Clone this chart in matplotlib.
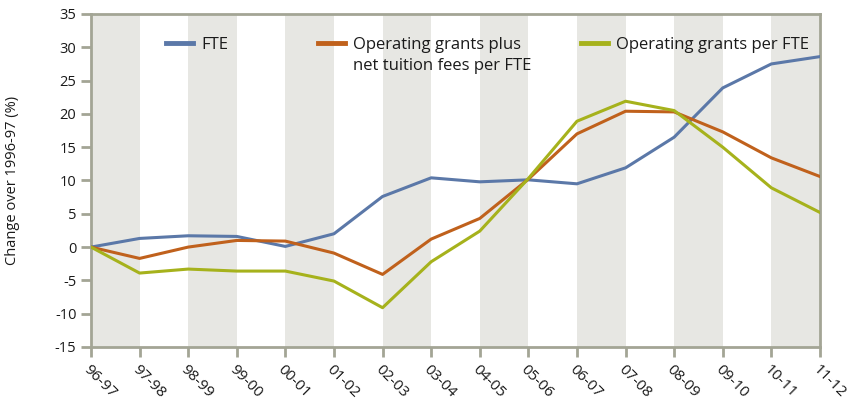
import numpy as np
import matplotlib
matplotlib.use('Agg')
import matplotlib.pyplot as plt
from matplotlib.lines import Line2D

plt.rcParams['font.family'] = ['Open Sans', 'DejaVu Sans']
plt.rcParams['axes.unicode_minus'] = False

# data
years = ['96-97', '97-98', '98-99', '99-00', '00-01', '01-02', '02-03', '03-04',
         '04-05', '05-06', '06-07', '07-08', '08-09', '09-10', '10-11', '11-12']
fte = [0, 1.3, 1.7, 1.6, 0.1, 2.0, 7.6, 10.4, 9.8, 10.1, 9.5, 11.9, 16.5, 23.9, 27.5, 28.6]
grants_plus_fees = [0, -1.7, 0, 1.0, 0.9, -0.9, -4.1, 1.2, 4.3, 10.2, 17.0, 20.4, 20.3, 17.3, 13.4, 10.6]
grants_per_fte = [0, -3.9, -3.3, -3.6, -3.6, -5.1, -9.1, -2.2, 2.4, 10.3, 18.9, 21.9, 20.5, 15.0, 8.9, 5.2]

labels = ['FTE', 'Operating grants plus\nnet tuition fees per FTE', 'Operating grants per FTE']
colors = ['#5b78a8', '#c0611c', '#a6b21c']

fig = plt.figure(figsize=(8.55, 4.09), dpi=100)
ax = fig.add_axes([0.1064, 0.1516, 0.8526, 0.8142])

x = np.arange(len(years))

# alternating shaded bands
for i in range(0, len(years) - 1, 2):
    ax.axvspan(i, i + 1, color='#e7e7e3', lw=0, zorder=0)

for series, c in zip([fte, grants_plus_fees, grants_per_fte], colors):
    ax.plot(x, series, color=c, lw=2.2, zorder=3)

ax.set_xlim(0, len(years) - 1)
ax.set_ylim(-15, 35)
ax.set_yticks(np.arange(-15, 36, 5))
ax.set_xticks(x)
ax.set_xticklabels(years, rotation=-45, ha='left', va='top', rotation_mode='anchor',
                   fontsize=11)

spine_col = '#a3a595'
for s in ax.spines.values():
    s.set_color(spine_col)
    s.set_linewidth(2)
ax.tick_params(axis='both', colors=spine_col, width=2, length=7, labelcolor='#1a1a1a')
ax.tick_params(axis='y', labelsize=10.5)
ax.tick_params(axis='x', pad=4)

ax.set_ylabel('Change over 1996-97 (%)', fontsize=10.5, color='#1a1a1a')
ax.yaxis.set_label_coords(-0.097, 0.5)

# legend drawn by hand so the handle sits on the first text line
leg_x = [0.103, 0.311, 0.672]
for lx, lab, c in zip(leg_x, labels, colors):
    ax.add_line(Line2D([lx, lx + 0.037], [0.912, 0.912], color=c, lw=3.5,
                       transform=ax.transAxes, zorder=4))
    ax.text(lx + 0.048, 0.93, lab, transform=ax.transAxes, fontsize=12,
            va='top', ha='left', color='#1a1a1a', linespacing=1.42)

plt.savefig('out.png', dpi=100)
